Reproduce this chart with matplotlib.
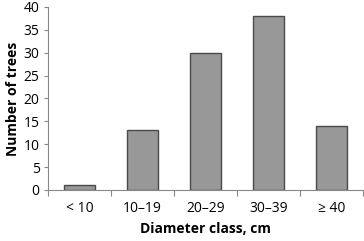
import matplotlib
matplotlib.use("Agg")
import matplotlib.pyplot as plt
import numpy as np

classes = ["< 10", "10\u201319", "20\u201329", "30\u201339", "\u2265 40"]
n_trees = [1, 13, 30, 38, 14]

plt.rcParams["font.family"] = ["Open Sans", "DejaVu Sans"]

fig = plt.figure(figsize=(3.64, 2.41), dpi=100)
ax = fig.add_axes([0.132, 0.212, 0.865, 0.759])

x = np.arange(len(classes))
ax.bar(x, n_trees, width=0.5, color="#989898", edgecolor="#4a4a4a", lw=1.0, zorder=2)

ax.set_xlim(-0.5, len(classes) - 0.5)
ax.set_ylim(0, 40)
ax.set_yticks(range(0, 41, 5))
ax.tick_params(axis="y", labelsize=10, length=3, color="#888", pad=3)

# ticks between categories, labels centred under the bars
ax.set_xticks(np.arange(-0.5, len(classes), 1.0))
ax.set_xticklabels([])
ax.set_xticks(x, minor=True)
ax.set_xticklabels(classes, minor=True, fontsize=10)
ax.tick_params(axis="x", which="major", length=4, color="#888", direction="out")
ax.tick_params(axis="x", which="minor", length=0, pad=8)

for s in ("top", "right"):
    ax.spines[s].set_visible(False)
for s in ("left", "bottom"):
    ax.spines[s].set_color("#888")
    ax.spines[s].set_linewidth(0.8)

ax.set_ylabel("Number of trees", fontsize=10, fontweight="bold", labelpad=3)
ax.set_xlabel("Diameter class, cm", fontsize=10, fontweight="bold", labelpad=4)

fig.savefig("out.png", dpi=100)
plt.close(fig)
